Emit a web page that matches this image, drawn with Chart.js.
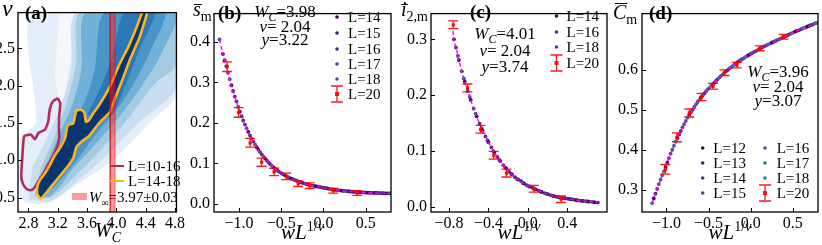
<!DOCTYPE html>
<html>
<head>
<meta charset="utf-8">
<script src="https://cdn.jsdelivr.net/npm/chart.js@4.4.1/dist/chart.umd.min.js"></script>
<style>
  body { margin: 0; background: #fff; }
  #wrap { position: relative; width: 822px; height: 245px; overflow: hidden; background: #fff; }
  canvas { position: absolute; top: 0; }
</style>
</head>
<body>
<div id="wrap">
  <canvas id="chartA" width="187" height="245" style="left:0px;width:187px;height:245px"></canvas>
  <canvas id="chartB" width="205" height="245" style="left:190px;width:205px;height:245px"></canvas>
  <canvas id="chartC" width="213" height="245" style="left:398px;width:213px;height:245px"></canvas>
  <canvas id="chartD" width="210" height="245" style="left:612px;width:210px;height:245px"></canvas>
</div>
<script>
// ---------- panel (a): nu vs W_C map ----------
const aXTicks = [2.8, 3.2, 3.6, 4.0, 4.4, 4.8];
const aYTicks = [0.5, 1.0, 1.5, 2.0, 2.5];
const heatHaze = [[2.75,0.44],[3.05,0.42],[3.5,0.7],[3.95,1.0],[4.45,1.5],[4.83,1.9],[4.83,3.0],[2.88,3.0],[2.9,1.5],[2.7,1.3],[2.68,0.5]];
const heatGap = [[3.22,3.0],[3.45,3.0],[3.33,2.1],[3.24,1.75],[3.16,2.1]];
const heatL2 = [[2.8,0.48],[3.1,0.45],[3.5,0.75],[3.85,1.05],[4.3,1.5],[4.83,2.0],[4.83,3.0],[3.47,3.0],[3.38,2.2],[3.25,1.75],[3.05,1.3],[2.85,0.9]];
const heatL3 = [[2.88,0.52],[3.1,0.5],[3.45,0.8],[3.75,1.1],[4.15,1.55],[4.5,2.0],[4.83,2.3],[4.83,3.0],[3.52,3.0],[3.45,2.3],[3.33,1.8],[3.15,1.3],[2.97,0.9]];
const heatL4 = [[2.92,0.53],[3.1,0.52],[3.42,0.9],[3.7,1.2],[4.05,1.6],[4.35,2.0],[4.6,2.4],[4.8,3.0],[3.6,3.0],[3.52,2.2],[3.4,1.75],[3.2,1.3],[3.02,0.9]];
const heatL5 = [[2.95,0.55],[3.1,0.6],[3.42,0.95],[3.68,1.3],[3.98,1.65],[4.22,2.0],[4.48,2.5],[4.65,3.0],[3.85,3.0],[3.7,2.2],[3.55,1.75],[3.3,1.35],[3.1,0.95]];
const heatL6 = [[3.6,1.6],[3.92,1.6],[4.12,2.0],[4.32,2.5],[4.52,3.0],[4.12,3.0],[3.95,2.4],[3.8,2.0]];
const contour14to18 = [[2.956,0.488],[2.921,0.543],[2.921,0.648],[2.956,0.733],[3.021,0.818],[3.086,0.923],[3.151,1.05],[3.237,1.177],[3.302,1.304],[3.324,1.431],[3.346,1.473],[3.411,1.494],[3.432,1.579],[3.454,1.664],[3.519,1.676],[3.562,1.642],[3.584,1.516],[3.627,1.537],[3.692,1.642],[3.757,1.727],[3.908,1.981],[4.038,2.277],[4.168,2.531],[4.276,2.784],[4.37,3.02],[4.43,3.02],[4.32,2.658],[4.19,2.361],[4.06,2.023],[3.973,1.812],[3.908,1.642],[3.779,1.516],[3.627,1.325],[3.54,1.262],[3.454,1.177],[3.411,1.029],[3.324,0.902],[3.216,0.775],[3.129,0.669],[3.043,0.564],[2.978,0.492],[2.956,0.488]];
const contour10to16 = [[3.199,1.832],[3.234,1.769],[3.22,1.6],[3.215,1.45],[3.22,1.3],[3.19,1.18],[3.13,1.05],[3.07,0.94],[3.0,0.82],[2.94,0.73],[2.9,0.66],[2.86,0.61],[2.809,0.6],[2.76,0.63],[2.722,0.69],[2.701,0.797],[2.714,1.008],[2.731,1.261],[2.744,1.325],[2.831,1.346],[2.887,1.283],[2.939,1.368],[3.026,1.41],[3.069,1.515],[3.091,1.685],[3.134,1.79],[3.199,1.832]];
const wInfLow = 3.915, wInfHigh = 3.982;

// ---------- panel (b): s_m collapse ----------
const bXTicks = [-1.0, -0.5, 0.0, 0.5];
const bYTicks = [0.0, 0.1, 0.2, 0.3, 0.4];
const bX14 = [-1.19,-1.09,-0.99,-0.89,-0.79,-0.69,-0.59,-0.49,-0.39,-0.29,-0.19,-0.09,0.01,0.11,0.21,0.31,0.41,0.51,0.61,0.71];
const bY14 = [0.370,0.293,0.228,0.178,0.140,0.112,0.090,0.075,0.063,0.055,0.048,0.0436,0.0396,0.0357,0.0328,0.0308,0.0289,0.0279,0.027,0.0264];
const bX15 = [-1.17,-1.07,-0.97,-0.87,-0.77,-0.67,-0.57,-0.47,-0.37,-0.27,-0.17,-0.07,0.03,0.13,0.23,0.33,0.43,0.53,0.63,0.73];
const bY15 = [0.355,0.279,0.217,0.169,0.134,0.107,0.0866,0.0724,0.0616,0.0536,0.0472,0.0428,0.0388,0.0351,0.0324,0.0304,0.0287,0.0277,0.027,0.0262];
const bX16 = [-1.15,-1.05,-0.95,-0.85,-0.75,-0.65,-0.55,-0.45,-0.35,-0.25,-0.15,-0.05,0.05,0.15,0.25,0.35,0.45,0.55,0.65,0.75];
const bY16 = [0.340,0.265,0.206,0.161,0.128,0.102,0.083,0.070,0.060,0.052,0.046,0.042,0.038,0.0345,0.032,0.030,0.0285,0.0275,0.027,0.026];
const bX17 = [-1.13,-1.03,-0.93,-0.83,-0.73,-0.63,-0.53,-0.43,-0.33,-0.23,-0.13,-0.03,0.07,0.17,0.27,0.37,0.47,0.57,0.67,0.77];
const bY17 = [0.324,0.253,0.196,0.154,0.122,0.098,0.080,0.0676,0.0584,0.0508,0.0452,0.0412,0.0372,0.0339,0.0316,0.0296,0.0283,0.0273,0.0268,0.026];
const bX18 = [-1.23,-1.11,-1.01,-0.91,-0.81,-0.71,-0.61,-0.51,-0.41,-0.31,-0.21,-0.11,-0.01,0.09,0.19,0.29,0.39,0.49,0.59,0.69,0.78];
const bY18 = [0.406,0.308,0.240,0.187,0.147,0.117,0.094,0.0774,0.0652,0.0568,0.0496,0.0444,0.0404,0.0364,0.0333,0.0312,0.0292,0.0281,0.0271,0.0266,0.026];
const bX20 = [-1.14,-1.005,-0.868,-0.733,-0.584,-0.44,-0.30,-0.164,0.117,0.40];
const bY20 = [0.339,0.226,0.151,0.103,0.079,0.068,0.050,0.045,0.0325,0.027];
const bE20 = [0.012,0.012,0.011,0.010,0.009,0.008,0.007,0.007,0.006,0.006];
const bFitX = [-1.23,-1.2,-1.15,-1.1,-1.05,-1.0,-0.95,-0.9,-0.85,-0.8,-0.75,-0.7,-0.65,-0.6,-0.55,-0.5,-0.45,-0.4,-0.35,-0.3,-0.25,-0.2,-0.15,-0.1,-0.05,0.0,0.05,0.1,0.15,0.2,0.25,0.3,0.35,0.4,0.45,0.5,0.55,0.6,0.65,0.7,0.75,0.78];
const bFitY = [0.406,0.378,0.340,0.300,0.265,0.234,0.206,0.182,0.161,0.143,0.128,0.114,0.102,0.092,0.083,0.076,0.070,0.064,0.060,0.056,0.052,0.049,0.046,0.044,0.042,0.040,0.038,0.036,0.0345,0.033,0.032,0.031,0.030,0.029,0.0285,0.028,0.0275,0.027,0.027,0.0265,0.026,0.026];

// ---------- panel (c): i_2,m collapse ----------
const cXTicks = [-0.8, -0.4, 0.0, 0.4];
const cYTicks = [0.0, 0.1, 0.2, 0.3];
const cX14 = [-0.75,-0.70,-0.64,-0.58,-0.52,-0.46,-0.40,-0.34,-0.28,-0.22,-0.16,-0.10,-0.04,0.02,0.08,0.14,0.20,0.26,0.32,0.38,0.44,0.50,0.56,0.62,0.68];
const cY14 = [0.300,0.263,0.2243,0.1916,0.1622,0.137,0.116,0.0974,0.0822,0.069,0.0578,0.049,0.042,0.0364,0.0316,0.0268,0.023,0.0196,0.0172,0.0154,0.0138,0.012,0.0108,0.0096,0.0084];
const cX16 = [-0.73,-0.67,-0.61,-0.55,-0.49,-0.43,-0.37,-0.31,-0.25,-0.19,-0.13,-0.07,-0.01,0.05,0.11,0.17,0.23,0.29,0.35,0.41,0.47,0.53,0.59,0.65,0.71];
const cY16 = [0.2853,0.2427,0.2075,0.176,0.149,0.1262,0.1064,0.0896,0.075,0.0632,0.0532,0.0466,0.039,0.034,0.0292,0.0248,0.0212,0.0184,0.016,0.0147,0.0129,0.0114,0.0102,0.009,0.0078];
const cX18 = [-0.71,-0.65,-0.59,-0.53,-0.47,-0.41,-0.35,-0.29,-0.23,-0.17,-0.11,-0.05,0.01,0.07,0.13,0.19,0.25,0.31,0.37,0.43,0.49,0.55,0.61,0.67];
const cY18 = [0.2705,0.230,0.1968,0.1668,0.141,0.1194,0.100,0.0846,0.071,0.0596,0.0504,0.043,0.0372,0.0324,0.0276,0.0236,0.020,0.0176,0.0156,0.0141,0.0123,0.011,0.0098,0.0086];
const cX20 = [-0.757,-0.613,-0.48,-0.347,-0.217,0.06,0.337];
const cY20 = [0.326,0.213,0.139,0.0926,0.0606,0.0326,0.014];
const cE20 = [0.007,0.007,0.007,0.007,0.007,0.006,0.006];
const cFitX = [-0.76,-0.75,-0.72,-0.70,-0.68,-0.65,-0.62,-0.60,-0.55,-0.50,-0.45,-0.40,-0.35,-0.30,-0.25,-0.20,-0.15,-0.10,-0.05,0.00,0.05,0.10,0.15,0.20,0.25,0.30,0.35,0.40,0.45,0.50,0.55,0.60,0.65,0.70];
const cFitY = [0.315,0.300,0.278,0.263,0.249,0.230,0.213,0.202,0.176,0.153,0.133,0.116,0.100,0.087,0.075,0.065,0.056,0.049,0.043,0.038,0.034,0.030,0.026,0.023,0.020,0.018,0.016,0.015,0.0135,0.012,0.011,0.010,0.009,0.008];

// ---------- panel (d): C_m collapse ----------
const dXTicks = [-1.0, -0.5, 0.0, 0.5];
const dYTicks = [0.3, 0.4, 0.5, 0.6];
const dX12 = [-1.15,-1.01,-0.87,-0.73,-0.59,-0.45,-0.31,-0.17,-0.03,0.11,0.25,0.39,0.53,0.67];
const dY12 = [0.278,0.357,0.429,0.487,0.531,0.564,0.593,0.617,0.636,0.653,0.668,0.682,0.696,0.708];
const dX13 = [-1.13,-0.99,-0.85,-0.71,-0.57,-0.43,-0.29,-0.15,-0.01,0.13,0.27,0.41,0.55,0.69];
const dY13 = [0.290,0.368,0.438,0.494,0.536,0.568,0.597,0.620,0.639,0.656,0.670,0.684,0.698,0.710];
const dX14 = [-1.11,-0.97,-0.83,-0.69,-0.55,-0.41,-0.27,-0.13,0.01,0.15,0.29,0.43,0.57,0.71];
const dY14 = [0.302,0.379,0.447,0.500,0.541,0.573,0.600,0.623,0.641,0.658,0.672,0.686,0.699,0.712];
const dX15 = [-1.09,-0.95,-0.81,-0.67,-0.53,-0.39,-0.25,-0.11,0.03,0.17,0.31,0.45,0.59,0.73];
const dY15 = [0.314,0.390,0.456,0.507,0.546,0.577,0.604,0.626,0.644,0.660,0.674,0.688,0.701,0.713];
const dX16 = [-1.07,-0.93,-0.79,-0.65,-0.51,-0.37,-0.23,-0.09,0.05,0.19,0.33,0.47,0.61,0.75];
const dY16 = [0.325,0.400,0.464,0.513,0.551,0.581,0.607,0.628,0.646,0.662,0.676,0.690,0.703,0.715];
const dX17 = [-1.05,-0.91,-0.77,-0.63,-0.49,-0.35,-0.21,-0.07,0.07,0.21,0.35,0.49,0.63,0.77];
const dY17 = [0.336,0.410,0.472,0.519,0.555,0.585,0.610,0.631,0.648,0.664,0.678,0.692,0.705,0.717];
const dX18 = [-1.17,-1.03,-0.89,-0.75,-0.61,-0.47,-0.33,-0.19,-0.05,0.09,0.23,0.37,0.51,0.65,0.78];
const dY18 = [0.266,0.346,0.420,0.480,0.525,0.560,0.589,0.614,0.634,0.651,0.666,0.680,0.694,0.706,0.718];
const dX20 = [-1.012,-0.876,-0.728,-0.584,-0.447,-0.311,-0.163,0.109,0.39];
const dY20 = [0.351,0.431,0.492,0.532,0.559,0.593,0.612,0.654,0.683];
const dE20 = [0.012,0.011,0.010,0.009,0.007,0.007,0.007,0.006,0.006];
const dFitX = [-1.17,-1.15,-1.1,-1.05,-1.0,-0.95,-0.9,-0.85,-0.8,-0.75,-0.7,-0.65,-0.6,-0.55,-0.5,-0.45,-0.4,-0.35,-0.3,-0.25,-0.2,-0.15,-0.1,-0.05,0.0,0.05,0.1,0.15,0.2,0.25,0.3,0.35,0.4,0.45,0.5,0.55,0.6,0.65,0.7,0.75,0.78];
const dFitY = [0.266,0.278,0.308,0.336,0.362,0.390,0.415,0.438,0.460,0.480,0.497,0.513,0.528,0.541,0.553,0.564,0.575,0.585,0.595,0.604,0.612,0.620,0.627,0.634,0.640,0.646,0.652,0.658,0.663,0.668,0.673,0.678,0.683,0.688,0.693,0.698,0.702,0.706,0.711,0.715,0.718];

// ---------- helpers ----------
const serif = "'Liberation Serif', 'Times New Roman', serif";
const RED = 'rgba(255,0,0,0.9)';
const FIT = '#ff00ff';
const pts = (xs, ys) => xs.map((x, i) => ({ x: x, y: ys[i] }));
const poly = arr => arr.map(p => ({ x: p[0], y: p[1] }));
const fmt = v => v.toFixed(1).replace('-', '\u2212');

function axes(xr, xt, yr, yt, yWidth, yPad) {
  const font = { family: serif, size: 16 };
  return {
    x: {
      type: 'linear', min: xr[0], max: xr[1],
      afterBuildTicks: s => { s.ticks = xt.map(v => ({ value: v })); },
      afterFit: s => { s.height = 33; },
      ticks: { font: font, color: '#000', padding: 2, maxRotation: 0, autoSkip: false, callback: fmt },
      grid: { display: false, drawTicks: false },
      border: { display: false }
    },
    y: {
      type: 'linear', min: yr[0], max: yr[1],
      afterBuildTicks: s => { s.ticks = yt.map(v => ({ value: v })); },
      afterFit: s => { s.width = yWidth; },
      ticks: { font: font, color: '#000', padding: yPad, autoSkip: false, callback: fmt },
      grid: { display: false, drawTicks: false },
      border: { display: false }
    }
  };
}

function dots(label, xs, ys, color, order) {
  return { label: label, data: pts(xs, ys), showLine: false, pointRadius: 1.9, pointBorderWidth: 0,
           backgroundColor: color, borderColor: color, order: order };
}
function redSet(xs, ys, errs) {
  return { label: 'L=20', data: pts(xs, ys), errors: errs, showLine: false, pointStyle: 'rect',
           pointRadius: 2.3, pointBorderWidth: 0, backgroundColor: RED, borderColor: RED, order: 0 };
}
function fitLine(xs, ys) {
  return { label: 'fit', data: pts(xs, ys), borderColor: FIT, borderWidth: 1.4, borderDash: [4, 2.5],
           pointRadius: 0, fill: false, tension: 0.3, order: 1 };
}
function patch(label, arr, color, order) {
  return { label: label, data: poly(arr), fill: 'shape', backgroundColor: color, borderColor: 'rgba(0,0,0,0)',
           borderWidth: 1, pointRadius: 0, tension: 0.3, order: order };
}

const framePlugin = {
  id: 'frame',
  afterDraw(chart) {
    const { ctx, chartArea: a, scales } = chart;
    ctx.save();
    ctx.strokeStyle = '#000';
    ctx.lineWidth = 1;
    scales.x.ticks.forEach(t => {
      const px = Math.round(scales.x.getPixelForValue(t.value)) + 0.5;
      ctx.beginPath(); ctx.moveTo(px, a.bottom); ctx.lineTo(px, a.bottom - 4); ctx.stroke();
    });
    scales.y.ticks.forEach(t => {
      const py = Math.round(scales.y.getPixelForValue(t.value)) + 0.5;
      ctx.beginPath(); ctx.moveTo(a.left, py); ctx.lineTo(a.left + 4, py); ctx.stroke();
    });
    ctx.lineWidth = 1.3;
    ctx.strokeRect(a.left, a.top, a.right - a.left, a.bottom - a.top);
    ctx.restore();
  }
};

const errorBars = {
  id: 'errorBars',
  afterDatasetsDraw(chart) {
    const ctx = chart.ctx, xs = chart.scales.x, ys = chart.scales.y;
    chart.data.datasets.forEach(ds => {
      if (!ds.errors) return;
      ctx.save();
      ctx.strokeStyle = ds.backgroundColor;
      ctx.lineWidth = 1.3;
      ds.data.forEach((p, i) => {
        const px = xs.getPixelForValue(p.x);
        const top = ys.getPixelForValue(p.y + ds.errors[i]);
        const bot = ys.getPixelForValue(p.y - ds.errors[i]);
        ctx.beginPath();
        ctx.moveTo(px, top); ctx.lineTo(px, bot);
        ctx.moveTo(px - 5, top); ctx.lineTo(px + 5, top);
        ctx.moveTo(px - 5, bot); ctx.lineTo(px + 5, bot);
        ctx.stroke();
      });
      ctx.restore();
    });
  }
};

// draws a row of text pieces; flags: i italic, b bold, _ subscript, ^ superscript
function drawRuns(ctx, runs, x, y, size, align) {
  const parts = runs.map(r => {
    const st = r[1] || '';
    const small = st.includes('_') || st.includes('^');
    const fs = small ? Math.round(size * 0.68) : size;
    const font = (st.includes('i') ? 'italic ' : '') + (st.includes('b') ? 'bold ' : '') + fs + 'px ' + serif;
    ctx.font = font;
    return { t: r[0], font: font, w: ctx.measureText(r[0]).width,
             dy: st.includes('_') ? size * 0.25 : (st.includes('^') ? -size * 0.36 : 0) };
  });
  const total = parts.reduce((s, p) => s + p.w, 0);
  let cx = align === 'center' ? x - total / 2 : x;
  ctx.textAlign = 'left';
  ctx.textBaseline = 'alphabetic';
  ctx.fillStyle = '#000';
  parts.forEach(p => { ctx.font = p.font; ctx.fillText(p.t, cx, y + p.dy); cx += p.w; });
  return parts.map(p => p.w);
}

function bar(ctx, x1, x2, y) {
  ctx.strokeStyle = '#000';
  ctx.lineWidth = 1;
  ctx.beginPath(); ctx.moveTo(x1, y); ctx.lineTo(x2, y); ctx.stroke();
}

function legendKey(ctx, ds, mx, base, tx) {
  const cy = base - 5;
  if (ds.errors) {
    ctx.strokeStyle = ds.backgroundColor;
    ctx.lineWidth = 1.3;
    ctx.beginPath();
    ctx.moveTo(mx, cy - 8); ctx.lineTo(mx, cy + 8);
    ctx.moveTo(mx - 6, cy - 8); ctx.lineTo(mx + 6, cy - 8);
    ctx.moveTo(mx - 6, cy + 8); ctx.lineTo(mx + 6, cy + 8);
    ctx.stroke();
    ctx.fillStyle = ds.backgroundColor;
    ctx.fillRect(mx - 2, cy - 2, 4, 4);
  } else {
    ctx.fillStyle = ds.backgroundColor;
    ctx.beginPath(); ctx.arc(mx, cy, 1.8, 0, Math.PI * 2); ctx.fill();
  }
  drawRuns(ctx, [[ds.label, '']], tx, base, 15);
}
const byLabel = (chart, label) => chart.data.datasets.find(d => d.label === label);

function deco(draw) {
  return { id: 'deco', afterDraw(chart) { const ctx = chart.ctx; ctx.save(); draw(ctx, chart); ctx.restore(); } };
}

function xTitle(ctx, chart) {
  const a = chart.chartArea;
  drawRuns(ctx, [['w', 'i'], ['L', 'i'], ['1/', '^'], ['\u03bd', 'i^']], (a.left + a.right) / 2, 239, 21, 'center');
}

const baseOptions = (scales, padRight) => ({
  responsive: false, animation: false, events: [],
  layout: { padding: { left: 0, right: padRight, top: 1, bottom: 0 } },
  plugins: { legend: { display: false }, tooltip: { enabled: false } },
  scales: scales
});

// ---------- chart (a) ----------
new Chart(document.getElementById('chartA'), {
  type: 'line',
  data: {
    datasets: [
      { label: 'W\u221e=3.97\u00b10.03',
        data: poly([[wInfLow, 0.2], [wInfHigh, 0.2], [wInfHigh, 3.1], [wInfLow, 3.1], [wInfLow, 0.2]]),
        fill: 'shape', backgroundColor: 'rgba(255,30,30,0.45)', borderColor: 'rgba(220,0,0,0.5)',
        borderWidth: 1, pointRadius: 0, order: 10 },
      { label: 'L=14-18', data: poly(contour14to18), borderColor: '#f9b51b', borderWidth: 2.6,
        pointRadius: 0, fill: false, tension: 0.15, order: 11 },
      { label: 'L=10-16', data: poly(contour10to16), borderColor: '#b22d5d', borderWidth: 2.6,
        pointRadius: 0, fill: false, tension: 0.15, order: 12 },
      patch('core', contour14to18, '#0a3573', 13),
      patch('h6', heatL6, '#2a78b8', 14),
      patch('h5', heatL5, '#4a95c8', 15),
      patch('h4', heatL4, '#72b2d8', 16),
      patch('h3', heatL3, '#a3cce3', 17),
      patch('h2', heatL2, '#c9def0', 18),
      patch('gap', heatGap, '#f4f8fd', 19),
      patch('haze', heatHaze, '#e4eef8', 20)
    ]
  },
  options: baseOptions(axes([2.657, 4.82], aXTicks, [0.306, 2.98], aYTicks, 18, 3), 2),
  plugins: [framePlugin, deco((ctx, chart) => {
    drawRuns(ctx, [['(a)', 'b']], 25, 19, 19);
    drawRuns(ctx, [['\u03bd', 'i']], 2, 16, 24);
    drawRuns(ctx, [['W', 'i'], ['C', 'i_']], 108, 237, 20, 'center');
    const l1 = byLabel(chart, 'L=10-16'), l2 = byLabel(chart, 'L=14-18'), band = byLabel(chart, 'W\u221e=3.97\u00b10.03');
    [[l1, 166], [l2, 181]].forEach(([ds, cy]) => {
      ctx.strokeStyle = ds.borderColor; ctx.lineWidth = 2;
      ctx.beginPath(); ctx.moveTo(110, cy); ctx.lineTo(124, cy); ctx.stroke();
      drawRuns(ctx, [[ds.label, '']], 128, cy + 5, 15);
    });
    ctx.fillStyle = band.backgroundColor;
    ctx.fillRect(72, 193, 15, 7);
    drawRuns(ctx, [['W', 'i'], ['\u221e', '_'], ['=3.97\u00b10.03', '']], 89, 202, 15);
  })]
});

// ---------- chart (b) ----------
new Chart(document.getElementById('chartB'), {
  type: 'line',
  data: {
    datasets: [
      redSet(bX20, bY20, bE20),
      fitLine(bFitX, bFitY),
      dots('L=14', bX14, bY14, '#440154', 2),
      dots('L=15', bX15, bY15, '#47176b', 3),
      dots('L=16', bX16, bY16, '#482c7b', 4),
      dots('L=17', bX17, bY17, '#414487', 5),
      dots('L=18', bX18, bY18, '#3b5b8c', 6)
    ]
  },
  options: baseOptions(axes([-1.296, 0.80], bXTicks, [-0.02, 0.47], bYTicks, 24, 4), 2),
  plugins: [framePlugin, errorBars, deco((ctx, chart) => {
    drawRuns(ctx, [['(b)', 'b']], 28, 19, 19);
    const w = drawRuns(ctx, [['s', 'i'], ['m', '_']], 3, 16, 20);
    bar(ctx, 4, 3 + w[0] + 1, 4.5);
    drawRuns(ctx, [['W', 'i'], ['C', 'i_'], ['=3.98', '']], 95, 17, 17, 'center');
    drawRuns(ctx, [['\u03bd', 'i'], ['= 2.04', '']], 95, 32, 17, 'center');
    drawRuns(ctx, [['y', 'i'], ['=3.22', '']], 95, 45, 17, 'center');
    ['L=14', 'L=15', 'L=16', 'L=17', 'L=18', 'L=20'].forEach((lab, i) => {
      legendKey(ctx, byLabel(chart, lab), 147, [22, 38, 54, 69, 84, 99][i], 158);
    });
    xTitle(ctx, chart);
  })]
});

// ---------- chart (c) ----------
new Chart(document.getElementById('chartC'), {
  type: 'line',
  data: {
    datasets: [
      redSet(cX20, cY20, cE20),
      fitLine(cFitX, cFitY),
      dots('L=14', cX14, cY14, '#440154', 2),
      dots('L=16', cX16, cY16, '#472c7a', 3),
      dots('L=18', cX18, cY18, '#3e4a89', 4)
    ]
  },
  options: baseOptions(axes([-0.983, 0.803], cXTicks, [-0.009, 0.346], cYTicks, 33, 4), 2),
  plugins: [framePlugin, errorBars, deco((ctx, chart) => {
    drawRuns(ctx, [['(c)', 'b']], 72, 18, 19);
    const w = drawRuns(ctx, [['i', 'i'], ['2,m', '_']], 3, 16, 20);
    bar(ctx, 3, 3 + w[0] + 1.5, 4.5);
    drawRuns(ctx, [['W', 'i'], ['C', 'i_'], ['=4.01', '']], 107, 39, 17, 'center');
    drawRuns(ctx, [['\u03bd', 'i'], ['= 2.04', '']], 107, 56, 17, 'center');
    drawRuns(ctx, [['y', 'i'], ['=3.74', '']], 107, 72, 17, 'center');
    ['L=14', 'L=16', 'L=18', 'L=20'].forEach((lab, i) => {
      legendKey(ctx, byLabel(chart, lab), 158.5, [21, 37, 52, 68][i], 168.5);
    });
    xTitle(ctx, chart);
  })]
});

// ---------- chart (d) ----------
new Chart(document.getElementById('chartD'), {
  type: 'line',
  data: {
    datasets: [
      redSet(dX20, dY20, dE20),
      fitLine(dFitX, dFitY),
      dots('L=12', dX12, dY12, '#440154', 2),
      dots('L=13', dX13, dY13, '#481a6c', 3),
      dots('L=14', dX14, dY14, '#472f7d', 4),
      dots('L=15', dX15, dY15, '#3e4a89', 5),
      dots('L=16', dX16, dY16, '#355f8d', 6),
      dots('L=17', dX17, dY17, '#2c718e', 7),
      dots('L=18', dX18, dY18, '#25848e', 8)
    ]
  },
  options: baseOptions(axes([-1.29, 0.80], dXTicks, [0.244, 0.741], dYTicks, 30, 4), 0.5),
  plugins: [framePlugin, errorBars, deco((ctx, chart) => {
    drawRuns(ctx, [['(d)', 'b']], 37, 19, 19);
    const w = drawRuns(ctx, [['C', 'i'], ['m', '_']], 1, 19, 20);
    bar(ctx, 3, 1 + w[0] + 1, 3.5);
    drawRuns(ctx, [['W', 'i'], ['C', 'i_'], ['=3.96', '']], 166, 77, 17, 'center');
    drawRuns(ctx, [['\u03bd', 'i'], ['= 2.04', '']], 166, 92, 17, 'center');
    drawRuns(ctx, [['y', 'i'], ['=3.07', '']], 166, 106, 17, 'center');
    const rows = [153, 168, 183, 198];
    ['L=12', 'L=13', 'L=14', 'L=15'].forEach((lab, i) => legendKey(ctx, byLabel(chart, lab), 90.7, rows[i], 101.3));
    ['L=16', 'L=17', 'L=18', 'L=20'].forEach((lab, i) => legendKey(ctx, byLabel(chart, lab), 153, rows[i], 164.7));
    xTitle(ctx, chart);
  })]
});
</script>
</body>
</html>
